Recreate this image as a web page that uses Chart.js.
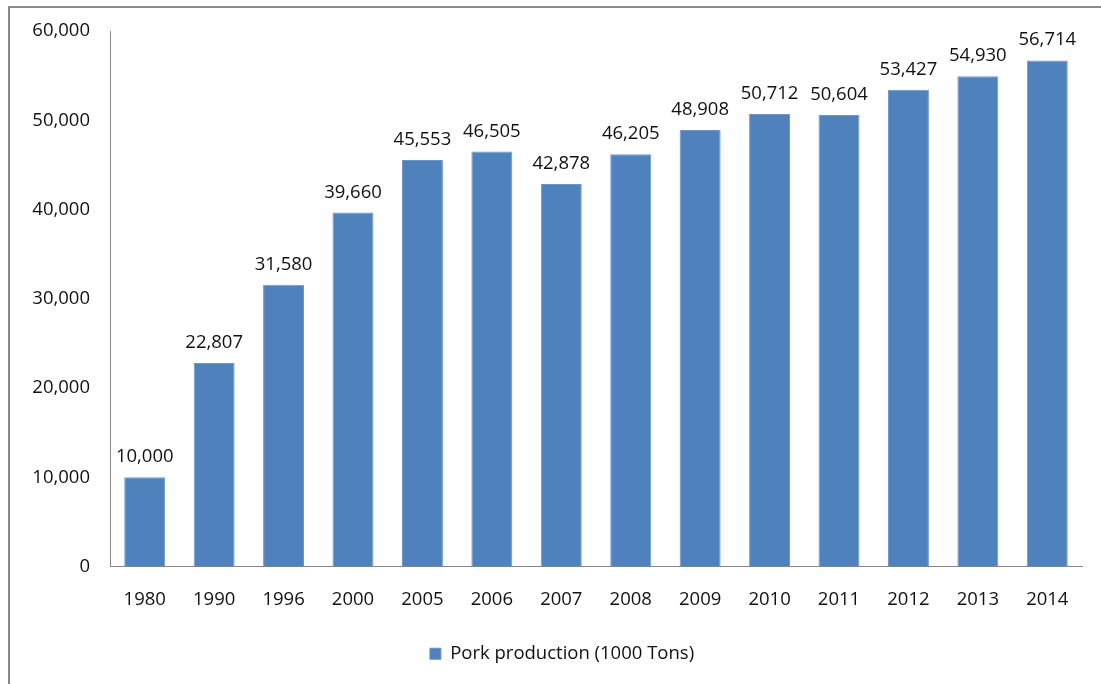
<!DOCTYPE html>
<html>
<head>
<meta charset="utf-8">
<script src="https://cdn.jsdelivr.net/npm/chart.js@4/dist/chart.umd.min.js"></script>
<style>
  html, body { margin: 0; padding: 0; background: #fff; }
  #wrap { position: relative; width: 1101px; height: 684px; overflow: hidden; }
  #frame {
    position: absolute; left: 8px; top: 6px; right: -10px; bottom: -10px;
    border-top: 2px solid #8a8a8a; border-left: 2px solid #8a8a8a;
  }
  #chart { position: absolute; left: 0; top: 0; }
</style>
</head>
<body>
<div id="wrap">
  <div id="frame"></div>
  <canvas id="chart" width="1101" height="684"></canvas>
</div>
<script>
const years = ["1980", "1990", "1996", "2000", "2005", "2006", "2007", "2008", "2009", "2010", "2011", "2012", "2013", "2014"];
const porkProduction = [10000, 22807, 31580, 39660, 45553, 46505, 42878, 46205, 48908, 50712, 50604, 53427, 54930, 56714];
const seriesName = "Pork production (1000 Tons)";

const FONT = "'Open Sans', sans-serif";
const SIZE = 18.5;

const valueLabels = {
    id: "valueLabels",
    afterDatasetsDraw(chart) {
        const ctx = chart.ctx;
        const meta = chart.getDatasetMeta(0);
        ctx.save();
        ctx.font = SIZE + "px " + FONT;
        ctx.fillStyle = "#111";
        ctx.textAlign = "center";
        ctx.textBaseline = "bottom";
        meta.data.forEach((bar, i) => {
            const v = chart.data.datasets[0].data[i];
            ctx.fillText(v.toLocaleString("en-US"), bar.x, bar.y - 11);
        });
        ctx.restore();
    }
};

// nudge the legend a bit right, as in the original
const legendShift = {
    id: "legendShift",
    afterLayout(chart) {
        chart.legend.left += 21;
        chart.legend.right += 21;
    }
};

Chart.defaults.font.family = FONT;
Chart.defaults.font.size = SIZE;
Chart.defaults.color = "#111";

new Chart(document.getElementById("chart"), {
    type: "bar",
    data: {
        labels: years,
        datasets: [{
            label: seriesName,
            data: porkProduction,
            backgroundColor: "#4F81BD",
            borderColor: "#6a95cc",
            borderWidth: 1,
            barPercentage: 0.59,
            categoryPercentage: 1
        }]
    },
    options: {
        responsive: false,
        animation: false,
        layout: { padding: { left: 0, right: 19, top: 31, bottom: 11 } },
        plugins: {
            legend: {
                position: "bottom",
                labels: { boxWidth: 11, boxHeight: 11, padding: 10, color: "#111" }
            },
            tooltip: { enabled: false }
        },
        scales: {
            x: {
                grid: { display: false, drawTicks: false },
                border: { color: "#868686", width: 1 },
                ticks: { padding: 22, color: "#111" },
                afterFit: s => { s.height = 68; }
            },
            y: {
                min: 0,
                max: 60000,
                grid: { display: false, drawTicks: false },
                border: { color: "#868686", width: 1 },
                ticks: {
                    stepSize: 10000,
                    padding: 20,
                    color: "#111",
                    callback: v => v.toLocaleString("en-US")
                },
                afterFit: s => { s.width = 110; }
            }
        }
    },
    plugins: [valueLabels, legendShift]
});
</script>
</body>
</html>
